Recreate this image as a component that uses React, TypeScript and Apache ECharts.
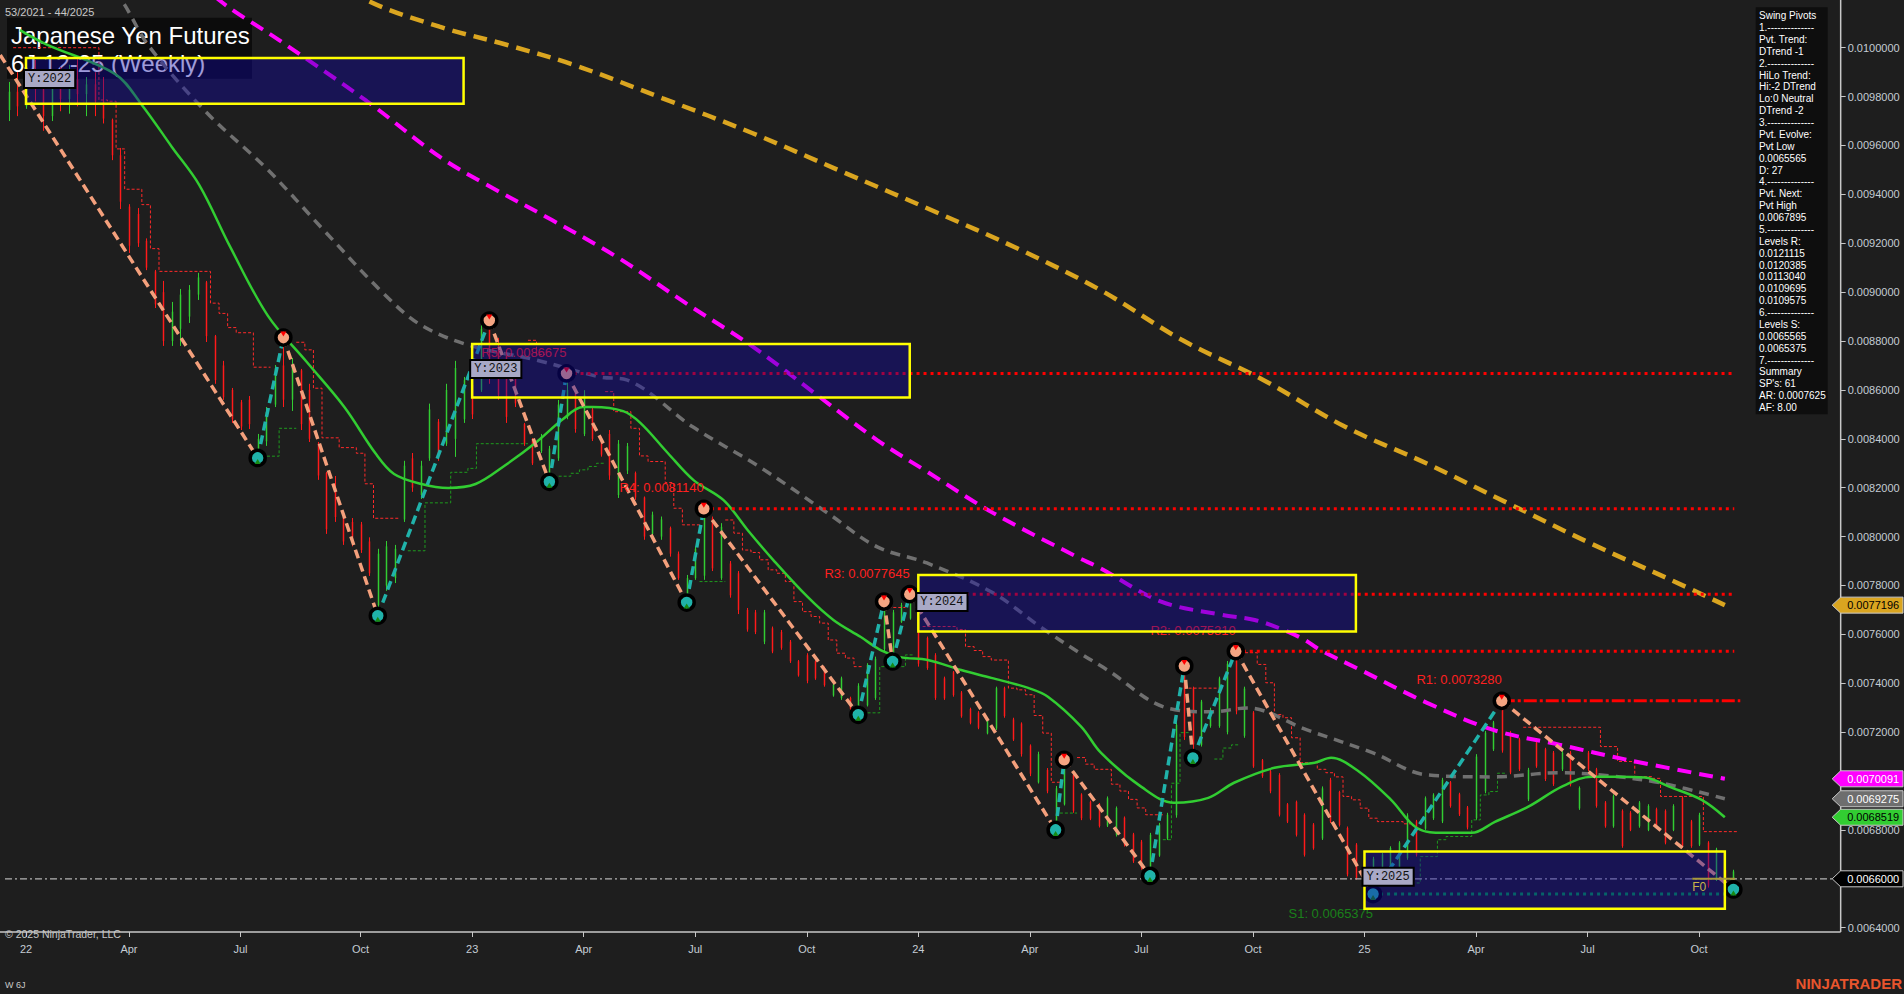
import React, { useEffect, useRef } from "react";
import * as echarts from "echarts";

// ---------------- data ----------------
const CATEGORY_COUNT = 214;
const xTickIndex = [2, 14, 27, 41, 54, 67, 80, 93, 106, 119, 132, 145, 158, 171, 184, 197];
const xTickLabels = ["22", "Apr", "Jul", "Oct", "23", "Apr", "Jul", "Oct", "24", "Apr", "Jul", "Oct", "25", "Apr", "Jul", "Oct"];

const Y_MIN = 0.0064;
const Y_MAX = 0.01;
const Y_STEP = 0.0002;

// weekly bars [open, high, low, close]
const ohlc: number[][] = [
  [0.009745, 0.00986, 0.0097, 0.00982], [0.00982, 0.0099, 0.00972, 0.00976], [0.00976, 0.00994, 0.00975, 0.00988],
  [0.00988, 0.00995, 0.00978, 0.00983], [0.00983, 0.0099, 0.00966, 0.00972], [0.00972, 0.00989, 0.0097, 0.00984],
  [0.00984, 0.00992, 0.00974, 0.00979], [0.00979, 0.00993, 0.00973, 0.00987], [0.00987, 0.00996, 0.00976, 0.00981],
  [0.00981, 0.00988, 0.00972, 0.00985], [0.00985, 0.0099, 0.00972, 0.00978], [0.00978, 0.00988, 0.00969, 0.00971],
  [0.009705, 0.00971, 0.00954, 0.00956], [0.00956, 0.00959, 0.00934, 0.00937], [0.00935, 0.00936, 0.00916, 0.00919],
  [0.00932, 0.009344, 0.009185, 0.0092], [0.00921, 0.00922, 0.00909, 0.0091], [0.009085, 0.009091, 0.008935, 0.00895],
  [0.009, 0.009046, 0.00878, 0.0088], [0.0088, 0.00896, 0.00878, 0.00892], [0.00885, 0.009013, 0.00878, 0.00899],
  [0.0089, 0.009029, 0.008874, 0.00901], [0.00899, 0.009079, 0.008968, 0.00906], [0.00904, 0.009046, 0.008796, 0.00882],
  [0.00882, 0.008825, 0.008625, 0.00864], [0.0087, 0.008719, 0.008559, 0.00857], [0.0086, 0.008608, 0.008465, 0.00848],
  [0.00855, 0.008559, 0.008436, 0.00845], [0.00856, 0.008575, 0.00844, 0.00846], [0.00834, 0.00842, 0.008322, 0.0084],
  [0.00839, 0.00853, 0.008371, 0.00851], [0.00854, 0.008702, 0.00853, 0.00869], [0.0087, 0.008814, 0.00853, 0.00856],
  [0.00856, 0.008731, 0.008514, 0.0087], [0.00868, 0.008686, 0.008436, 0.00846], [0.0086, 0.008625, 0.008387, 0.0084],
  [0.00838, 0.008387, 0.008232, 0.00825], [0.00826, 0.008265, 0.008011, 0.00803], [0.0082, 0.008248, 0.00806, 0.00808],
  [0.00808, 0.008089, 0.007966, 0.00798], [0.00806, 0.008076, 0.00796, 0.007975], [0.00805, 0.00806, 0.007933, 0.007945],
  [0.00798, 0.007997, 0.007839, 0.00785], [0.00772, 0.00795, 0.007676, 0.00793], [0.0078, 0.007982, 0.007778, 0.00796],
  [0.00783, 0.007966, 0.00781, 0.00795], [0.00807, 0.00831, 0.00806, 0.00829], [0.00832, 0.008342, 0.008183, 0.0082],
  [0.00817, 0.00831, 0.008154, 0.00829], [0.00832, 0.008544, 0.00831, 0.00852], [0.00847, 0.008481, 0.00831, 0.00833],
  [0.00838, 0.008625, 0.008371, 0.0086], [0.0084, 0.008719, 0.008326, 0.00869], [0.00848, 0.008653, 0.008465, 0.00864],
  [0.00862, 0.008625, 0.008481, 0.0085], [0.0086, 0.008874, 0.008592, 0.00885], [0.00886, 0.008884, 0.008625, 0.00865],
  [0.00878, 0.008813, 0.00856, 0.00858], [0.00874, 0.00876, 0.008465, 0.00849], [0.00869, 0.008702, 0.00853, 0.008545],
  [0.00846, 0.008465, 0.008371, 0.00838], [0.008395, 0.008403, 0.008293, 0.0083], [0.00835, 0.00842, 0.008342, 0.00841],
  [0.00824, 0.008371, 0.008224, 0.00836], [0.00832, 0.008559, 0.00831, 0.00854], [0.00849, 0.008668, 0.00848, 0.0086],
  [0.00859, 0.008599, 0.008425, 0.00844], [0.00842, 0.008599, 0.008411, 0.00858], [0.00852, 0.008527, 0.008391, 0.0084],
  [0.0084, 0.008409, 0.008327, 0.008335], [0.00842, 0.008436, 0.008232, 0.00825], [0.00817, 0.008395, 0.008158, 0.00838],
  [0.00827, 0.008383, 0.008256, 0.00837], [0.00826, 0.008266, 0.00815, 0.00816], [0.00816, 0.008164, 0.007987, 0.008],
  [0.00801, 0.008102, 0.008, 0.00809], [0.008, 0.008082, 0.007987, 0.00807], [0.008035, 0.008041, 0.007918, 0.00793],
  [0.00793, 0.007939, 0.007823, 0.00783], [0.00774, 0.007843, 0.00773, 0.00783], [0.00783, 0.007959, 0.007823, 0.00795],
  [0.00784, 0.008114, 0.007823, 0.00809], [0.008075, 0.008082, 0.007859, 0.00787], [0.00783, 0.008055, 0.007823, 0.00804],
  [0.00789, 0.0079, 0.00775, 0.00776], [0.00785, 0.007859, 0.007683, 0.0077], [0.0077, 0.007708, 0.007611, 0.00762],
  [0.00769, 0.0077, 0.007601, 0.00761], [0.00757, 0.0077, 0.00756, 0.00769], [0.007625, 0.007632, 0.007523, 0.00753],
  [0.00761, 0.007618, 0.007537, 0.007545], [0.00757, 0.007577, 0.007483, 0.00749], [0.00749, 0.007495, 0.007427, 0.007432],
  [0.007515, 0.007523, 0.0074, 0.00741], [0.00749, 0.007495, 0.007414, 0.00742], [0.00746, 0.007468, 0.007386, 0.007392],
  [0.00735, 0.0074, 0.007345, 0.007395], [0.00734, 0.007427, 0.007332, 0.00742], [0.00734, 0.007345, 0.007291, 0.007296],
  [0.00728, 0.0074, 0.007271, 0.00739], [0.00731, 0.007482, 0.007305, 0.007475], [0.00734, 0.007509, 0.007332, 0.0075],
  [0.00754, 0.007734, 0.00753, 0.00772], [0.00751, 0.0077, 0.007489, 0.00769], [0.00765, 0.007729, 0.007647, 0.00772],
  [0.007665, 0.007768, 0.00766, 0.00775], [0.007665, 0.007673, 0.007468, 0.00748], [0.007585, 0.007591, 0.007455, 0.007462],
  [0.007515, 0.007523, 0.007332, 0.00734], [0.00742, 0.007427, 0.007332, 0.007338], [0.007445, 0.00745, 0.007345, 0.007352],
  [0.007362, 0.007368, 0.007259, 0.007265], [0.007295, 0.0073, 0.007232, 0.007238], [0.00728, 0.007286, 0.007212, 0.007218],
  [0.007195, 0.007259, 0.007191, 0.007252], [0.007215, 0.007386, 0.007209, 0.00738], [0.00738, 0.007386, 0.007259, 0.007266],
  [0.007252, 0.007259, 0.007164, 0.00717], [0.007235, 0.00724, 0.0071, 0.00711], [0.007145, 0.00715, 0.00702, 0.00703],
  [0.006995, 0.00712, 0.00699, 0.00711], [0.007045, 0.007053, 0.00695, 0.006958], [0.00681, 0.00698, 0.0068, 0.00697],
  [0.006905, 0.007087, 0.0069, 0.00707], [0.007025, 0.00703, 0.00687, 0.006878], [0.006945, 0.00695, 0.00684, 0.006848],
  [0.006915, 0.00692, 0.00684, 0.006846], [0.006905, 0.00691, 0.00681, 0.006816], [0.006818, 0.006937, 0.006812, 0.00693],
  [0.00678, 0.006896, 0.006773, 0.00689], [0.00685, 0.006855, 0.006732, 0.00674], [0.006782, 0.006788, 0.006665, 0.006672],
  [0.006752, 0.006759, 0.006637, 0.006645], [0.00662, 0.006788, 0.006612, 0.00678], [0.006695, 0.006829, 0.00669, 0.006822],
  [0.006765, 0.00687, 0.006759, 0.006862], [0.00686, 0.00724, 0.00685, 0.00723], [0.00745, 0.007471, 0.007168, 0.00718],
  [0.00738, 0.007386, 0.007094, 0.00715], [0.007148, 0.007332, 0.007141, 0.007325], [0.007225, 0.0073, 0.007218, 0.007292],
  [0.007225, 0.007427, 0.007218, 0.00742], [0.0072, 0.007491, 0.007191, 0.00748], [0.00752, 0.007534, 0.007273, 0.007285],
  [0.007185, 0.007386, 0.007177, 0.007378], [0.00728, 0.007286, 0.007054, 0.00706], [0.007085, 0.00709, 0.007013, 0.00702],
  [0.00704, 0.007045, 0.00695, 0.006958], [0.007025, 0.007032, 0.006855, 0.006862], [0.006905, 0.00691, 0.006828, 0.006834],
  [0.006915, 0.00692, 0.006773, 0.00678], [0.006862, 0.006868, 0.006691, 0.006698], [0.006822, 0.006828, 0.006719, 0.006725],
  [0.006765, 0.006978, 0.006759, 0.00697], [0.007005, 0.007013, 0.006828, 0.006835], [0.006955, 0.00696, 0.006814, 0.00682],
  [0.006808, 0.006814, 0.00661, 0.006618], [0.00674, 0.006746, 0.006596, 0.006602], [0.006672, 0.006678, 0.00657, 0.006578],
  [0.006545, 0.00669, 0.006537, 0.006682], [0.00663, 0.006706, 0.006624, 0.0067], [0.00663, 0.006733, 0.006624, 0.006726],
  [0.006645, 0.006754, 0.006637, 0.006748], [0.006685, 0.006868, 0.006678, 0.00686], [0.006835, 0.006841, 0.006691, 0.006698],
  [0.006805, 0.006937, 0.0068, 0.00693], [0.006848, 0.00695, 0.006841, 0.006944], [0.006835, 0.007013, 0.006828, 0.007005],
  [0.006995, 0.007, 0.006891, 0.006898], [0.006946, 0.006952, 0.006857, 0.006864], [0.006892, 0.006898, 0.006802, 0.00681],
  [0.006848, 0.00711, 0.006841, 0.0071], [0.006958, 0.007205, 0.00695, 0.007198], [0.00713, 0.007246, 0.007123, 0.00724],
  [0.00732, 0.007335, 0.007116, 0.007125], [0.007198, 0.007205, 0.007028, 0.007035], [0.00717, 0.007177, 0.007041, 0.007048],
  [0.006925, 0.007054, 0.006918, 0.007046], [0.007158, 0.007164, 0.007054, 0.00706], [0.00713, 0.007136, 0.007, 0.007008],
  [0.007116, 0.007123, 0.00698, 0.006988], [0.007048, 0.007123, 0.007041, 0.007116], [0.007116, 0.007123, 0.006978, 0.006985],
  [0.006888, 0.006978, 0.006882, 0.006972], [0.007116, 0.007123, 0.007041, 0.007048], [0.007048, 0.007054, 0.006891, 0.006898],
  [0.006912, 0.006918, 0.006809, 0.006815], [0.006815, 0.006945, 0.006809, 0.006938], [0.006878, 0.006884, 0.006727, 0.006734],
  [0.00687, 0.006877, 0.006795, 0.0068], [0.006815, 0.006918, 0.006809, 0.006912], [0.0068, 0.006905, 0.006795, 0.006898],
  [0.006885, 0.006891, 0.006809, 0.006815], [0.006878, 0.006884, 0.006741, 0.006748], [0.0068, 0.006905, 0.006795, 0.006898],
  [0.006932, 0.006938, 0.006727, 0.006734], [0.006835, 0.006841, 0.006727, 0.006734], [0.00674, 0.00687, 0.006734, 0.006862],
  [0.006748, 0.006754, 0.006564, 0.006572], [0.006596, 0.006727, 0.006591, 0.00672], [0.006635, 0.00664, 0.00658, 0.006586],
  [0.00659, 0.006637, 0.006556, 0.00663],
];

// swing pivots [barIndex, price] (first one lies left of the visible range)
const swingPivots: number[][] = [
  [-1, 0.00997], [29, 0.008322], [32, 0.008814], [43, 0.007676], [56, 0.008884], [63, 0.008224], [65, 0.0086675],
  [79, 0.00773], [81, 0.008114], [99, 0.007271], [102, 0.007734], [103, 0.007489], [105, 0.0077645], [122, 0.0068],
  [123, 0.007087], [133, 0.006612], [137, 0.007471], [138, 0.007094], [143, 0.007531], [159, 0.0065375],
  [174, 0.007328], [201, 0.0065565],
];

// moving averages [barIndex, value]
const maFast: number[][] = [
  [1.3, 0.010072], [4.3, 0.010015], [12.4, 0.009892], [15.5, 0.009766], [19, 0.009594], [22.2, 0.009438], [25.8, 0.009185],
  [30.2, 0.008903], [34.7, 0.008715], [39.1, 0.00853], [42.7, 0.008342], [44.9, 0.008256], [48.1, 0.008215], [51.2, 0.008199],
  [54.4, 0.008215], [57.9, 0.008293], [61.5, 0.008387], [64.6, 0.008481], [66.9, 0.00853], [68.1, 0.00853], [71.6, 0.008513],
  [73.6, 0.008465], [76.8, 0.008342], [79.8, 0.008231], [83.3, 0.008149], [86.1, 0.008027], [89.1, 0.007904], [93.1, 0.007753],
  [96.1, 0.007659], [99.3, 0.007589], [101.6, 0.007536], [103.9, 0.007507], [107.1, 0.007495], [111, 0.007454], [114.5, 0.007422],
  [118.8, 0.007381], [121.1, 0.007345], [125, 0.007222], [127.3, 0.007115], [132, 0.006976], [135.8, 0.006911], [139.8, 0.006931],
  [142.8, 0.006993], [147.5, 0.007054], [152.2, 0.007075], [154.1, 0.007095], [157.3, 0.00704], [161.1, 0.006923], [164.1, 0.006808],
  [167.3, 0.006788], [170.5, 0.006788], [173.2, 0.006833], [177.1, 0.006895], [181, 0.006977], [184.5, 0.007018], [187.2, 0.007018],
  [190.7, 0.007014], [193.5, 0.006977], [197.3, 0.006923], [200, 0.0068519],
];
const maMid: number[][] = [
  [12.3, 0.010235], [13.5, 0.010175], [16.4, 0.010003], [23.1, 0.009733], [30.2, 0.0095], [36.8, 0.00925], [43.6, 0.008997],
  [48, 0.008866], [53.9, 0.00878], [61.4, 0.008723], [68.9, 0.008653], [72, 0.008641], [79.7, 0.008449], [87.5, 0.008285],
  [95.4, 0.008097], [101.2, 0.007958], [107, 0.007892], [114.7, 0.00777], [120.2, 0.007631], [124.8, 0.007524], [128, 0.007455],
  [135, 0.007299], [140.3, 0.007283], [144.3, 0.007299], [151.3, 0.007209], [159, 0.007115], [165.3, 0.007025], [173, 0.007017],
  [180.8, 0.007034], [186.6, 0.007021], [192.4, 0.006993], [200, 0.0069275],
];
const maSlow: number[][] = [
  [22.5, 0.01028], [24.5, 0.010195], [31.5, 0.010031], [41.7, 0.009782], [50.2, 0.009554], [55.4, 0.009445], [63.3, 0.009295],
  [71.1, 0.009139], [78.9, 0.008955], [86.7, 0.008777], [94.5, 0.008571], [101.2, 0.008395], [107, 0.008266], [114.7, 0.008097],
  [124.5, 0.007917], [127.2, 0.007871], [134.3, 0.007734], [141.4, 0.00768], [145.2, 0.007659], [148.6, 0.007618], [151, 0.007578],
  [152.8, 0.007537], [157.5, 0.007455], [165.3, 0.00732], [173, 0.007209], [180.8, 0.007148], [188.6, 0.007087], [200, 0.0070091],
];
const maLong: number[][] = [
  [38, 0.0103], [41.7, 0.010195], [50.2, 0.010086], [58.1, 0.010011], [65.9, 0.009929], [76.2, 0.009793], [86.7, 0.00965],
  [97.1, 0.009493], [107.5, 0.009336], [117.9, 0.009173], [127.2, 0.009009], [136.7, 0.008805], [146.2, 0.008641],
  [155.7, 0.00845], [165.2, 0.0083], [174.7, 0.008137], [184.3, 0.007973], [193.7, 0.007823], [200, 0.0077196],
];

// trailing step lines: segments of [fromBar, toBar, value]
const redSteps: number[][][] = [
  [[1, 10, 0.01], [11, 11, 0.009786], [12, 12, 0.009781], [13, 13, 0.009586], [14, 15, 0.009421], [16, 16, 0.009358],
    [17, 17, 0.009178], [18, 23, 0.009085], [24, 24, 0.008955], [25, 25, 0.008913], [26, 26, 0.008855], [27, 28, 0.008834],
    [29, 30, 0.008693]],
  [[34, 34, 0.008795], [35, 35, 0.008764], [36, 36, 0.008607], [37, 38, 0.008404], [39, 40, 0.008364], [41, 41, 0.008341],
    [42, 42, 0.008216], [43, 45, 0.008075]],
  [[61, 61, 0.008803], [62, 62, 0.008745]],
  [[70, 70, 0.008593], [71, 72, 0.008511], [73, 73, 0.008443], [74, 74, 0.00833], [75, 76, 0.008307], [77, 77, 0.008221],
    [78, 78, 0.008116], [79, 80, 0.008048]],
  [[84, 84, 0.008068], [85, 85, 0.008014], [86, 86, 0.007945], [87, 87, 0.007935], [88, 88, 0.007905], [89, 89, 0.007864],
    [90, 90, 0.00785], [91, 91, 0.007816], [92, 92, 0.007734], [93, 93, 0.007693], [94, 94, 0.007673], [95, 95, 0.007646],
    [96, 96, 0.007577], [97, 97, 0.007523], [98, 98, 0.007503], [99, 99, 0.007468]],
  [[103, 104, 0.00771]],
  [[107, 110, 0.007632], [111, 111, 0.00762], [112, 112, 0.00755], [113, 113, 0.007534], [114, 114, 0.007509],
    [115, 116, 0.007495], [117, 117, 0.00738], [118, 118, 0.007373], [119, 119, 0.007353], [120, 120, 0.007268],
    [121, 121, 0.007196], [122, 122, 0.006995]],
  [[125, 125, 0.007096], [126, 126, 0.007069], [127, 128, 0.007048], [129, 129, 0.006987], [130, 130, 0.006959],
    [131, 131, 0.006925], [132, 132, 0.00689], [133, 134, 0.006862]],
  [[138, 141, 0.00738]],
  [[144, 145, 0.007525], [146, 146, 0.007477], [147, 147, 0.007402], [148, 148, 0.007272], [149, 149, 0.007259],
    [150, 150, 0.007177], [151, 152, 0.007075], [153, 153, 0.007048], [154, 154, 0.007034], [155, 155, 0.007017],
    [156, 156, 0.006937], [157, 157, 0.006923], [158, 158, 0.006889], [159, 159, 0.006848], [160, 162, 0.006834],
    [163, 163, 0.006825]],
  [[177, 185, 0.00722], [186, 187, 0.007141], [188, 189, 0.00708], [190, 191, 0.007018], [192, 192, 0.007011],
    [193, 197, 0.006937], [198, 201, 0.006793]],
];
const greenSteps: number[][][] = [
  [[30, 31, 0.008329], [32, 33, 0.008443]],
  [[47, 48, 0.007942], [49, 51, 0.008138], [52, 53, 0.008263], [54, 54, 0.008279], [55, 60, 0.00838]],
  [[64, 65, 0.008247], [66, 66, 0.008259], [67, 67, 0.008273], [68, 68, 0.008287], [69, 69, 0.0083]],
  [[81, 83, 0.007816]],
  [[100, 101, 0.007279], [102, 104, 0.007468], [105, 105, 0.007516]],
  [[123, 124, 0.006869]],
  [[135, 135, 0.00676], [136, 136, 0.006991], [137, 137, 0.007198]],
  [[141, 141, 0.00709], [142, 142, 0.007135], [143, 143, 0.007148]],
  [[164, 164, 0.006583], [165, 166, 0.006691], [167, 167, 0.00676], [168, 170, 0.006773], [171, 171, 0.006841],
    [172, 172, 0.006943], [173, 173, 0.006957], [174, 174, 0.007032]],
];

// support / resistance levels
const levelNames = ["R5", "R4", "R3", "R2", "R1", "S1"];
const levelValues = [0.0086675, 0.008114, 0.0077645, 0.007531, 0.007328, 0.0065375];
const levelStartBar = [65, 81, 105, 143, 174, 159];
const levelEndBar = [201.1, 201.1, 201.1, 201.1, 201.8, 201.8];

// yearly boxes
const yearLabels = ["Y:2022", "Y:2023", "Y:2024", "Y:2025"];
const yearStartBar = [2, 54, 106, 158];
const yearEndBar = [53, 105, 157, 200];
const yearTop = [0.009958, 0.008788, 0.007843, 0.006712];
const yearBottom = [0.009771, 0.008569, 0.007612, 0.006478];
const yearLabelLevel = [0.009905, 0.008718, 0.007765, 0.006641];

const lastPrice = 0.0066;
const fibBars = [196.2, 201.2];
const badgeValues = [0.0077196, 0.0070091, 0.0069275, 0.0068519, 0.0066];

const infoLines = [
  "Swing Pivots", "1.--------------", "Pvt. Trend:", "DTrend -1", "2.--------------", "HiLo Trend:", "Hi:-2 DTrend",
  "Lo:0 Neutral", "DTrend -2", "3.--------------", "Pvt. Evolve:", "Pvt Low", "0.0065565", "D: 27", "4.--------------",
  "Pvt. Next:", "Pvt High", "0.0067895", "5.--------------", "Levels R:", "0.0121115", "0.0120385", "0.0113040",
  "0.0109695", "0.0109575", "6.--------------", "Levels S:", "0.0065565", "0.0065375", "7.--------------", "Summary",
  "SP's: 61", "AR: 0.0007625", "AF: 8.00",
];

// ---------------- styling ----------------
const FONT = '"Liberation Sans", Arial, sans-serif';
const BG = "#1e1e1e";
const UP = "#32cd32";
const DOWN = "#ff1a1a";
const badgeFill = ["#daa520", "#ff00ff", "#6e6e6e", "#32cd32", "#000000"];
const badgeInk = ["#000000", "#ffffff", "#ffffff", "#000000", "#ffffff"];

export default function App() {
  const ref = useRef<HTMLDivElement>(null);

  useEffect(() => {
    if (!ref.current) return;
    const chart = echarts.init(ref.current, null, { renderer: "svg" });

    const categories = Array.from({ length: CATEGORY_COUNT }, (_, i) => {
      const k = xTickIndex.indexOf(i);
      return k >= 0 ? xTickLabels[k] : "";
    });
    const showTick = (index: number) => xTickIndex.indexOf(index) >= 0;

    const legs = swingPivots.slice(0, -1).map((_, k) => [k]);
    const pivotMarks = swingPivots.slice(1).map((_, k) => [k + 1]);

    const stepSeries = (segs: number[][][], color: string) => ({
      type: "custom",
      xAxisIndex: 1,
      yAxisIndex: 0,
      z: 2,
      silent: true,
      clip: false,
      data: segs.map((_, k) => [k]),
      renderItem: (params: any, api: any) => {
        const seg = segs[params.dataIndex];
        const pts: number[][] = [];
        for (const [a, b, v] of seg) {
          pts.push(api.coord([a - 0.5, v]));
          pts.push(api.coord([b + 0.5, v]));
        }
        return {
          type: "polyline",
          shape: { points: pts },
          style: { stroke: color, lineWidth: 1, lineDash: [3, 2], fill: "none" },
        };
      },
    });

    const maSeries = (data: number[][], color: string, width: number, dash: any, z: number) => ({
      type: "line",
      xAxisIndex: 1,
      yAxisIndex: 0,
      data,
      smooth: 0.35,
      symbol: "none",
      showSymbol: false,
      silent: true,
      clip: false,
      z,
      lineStyle: { color, width, type: dash, cap: "butt" },
    });

    const option: any = {
      animation: false,
      backgroundColor: BG,
      textStyle: { fontFamily: FONT },
      grid: { left: 4.55, right: 63.33, top: 47.7, bottom: 66.3, containLabel: false, outerBoundsMode: "none" },
      xAxis: [
        {
          type: "category",
          data: categories,
          gridIndex: 0,
          position: "bottom",
          offset: 4.3,
          axisLine: { show: false, onZero: false },
          axisTick: { show: true, interval: showTick, alignWithLabel: true, length: 5, lineStyle: { color: "#c8c8c8" } },
          axisLabel: { interval: showTick, color: "#c4ccd4", fontSize: 11, fontFamily: FONT, margin: 11 },
          splitLine: { show: false },
        },
        {
          type: "value",
          gridIndex: 0,
          min: -0.5,
          max: CATEGORY_COUNT - 0.5,
          show: false,
          axisLine: { show: false, onZero: false },
        },
      ],
      yAxis: [
        {
          type: "value",
          position: "right",
          min: Y_MIN,
          max: Y_MAX,
          interval: Y_STEP,
          axisLine: { show: false, onZero: false },
          axisTick: { show: true, length: 5, lineStyle: { color: "#c8c8c8" } },
          axisLabel: {
            color: "#c4ccd4",
            fontSize: 11,
            fontFamily: FONT,
            margin: 7,
            formatter: (v: number) => v.toFixed(7),
          },
          splitLine: { show: false },
        },
      ],
      graphic: [
        { type: "rect", z: 0, shape: { x: 7, y: 17.7, width: 245, height: 61 }, style: { fill: "rgba(10,10,10,0.9)" } },
        { type: "text", z: 1, x: 11, y: 35, style: { text: "Japanese Yen Futures", fill: "#ffffff", font: `24px ${FONT}`, align: "left", verticalAlign: "middle" } },
        { type: "text", z: 1, x: 11, y: 63, style: { text: "6J 12-25 (Weekly)", fill: "#ffffff", font: `24px ${FONT}`, align: "left", verticalAlign: "middle" } },
        { type: "text", z: 1, x: 5, y: 12, style: { text: "53/2021 - 44/2025", fill: "#c8c8c8", font: `11px ${FONT}`, align: "left", verticalAlign: "middle" } },
        { type: "line", z: 9, shape: { x1: 1840.67, y1: 0, x2: 1840.67, y2: 932 }, style: { stroke: "#c8c8c8", lineWidth: 1.5 } },
        { type: "line", z: 9, shape: { x1: 0, y1: 932, x2: 1840.67, y2: 932 }, style: { stroke: "#c8c8c8", lineWidth: 1.5 } },
        { type: "text", z: 9, x: 5, y: 934, style: { text: "© 2025 NinjaTrader, LLC", fill: "#c8c8c8", font: `10.5px ${FONT}`, align: "left", verticalAlign: "middle" } },
        { type: "text", z: 9, x: 5, y: 985, style: { text: "W 6J", fill: "#c8c8c8", font: `9px ${FONT}`, align: "left", verticalAlign: "middle" } },
        { type: "text", z: 9, x: 1902, y: 983, style: { text: "NINJATRADER", fill: "#e8552d", font: `bold 15px ${FONT}`, align: "right", verticalAlign: "middle" } },
        { type: "rect", z: 20, shape: { x: 1755.7, y: 7.3, width: 72, height: 407 }, style: { fill: "#0e0e0e" } },
        { type: "text", z: 21, x: 1759, y: 9.8, style: { text: infoLines.join("\n"), fill: "#ffffff", font: `10px ${FONT}`, lineHeight: 11.875, align: "left", verticalAlign: "top" } },
      ],
      series: [
        // price bars
        {
          type: "custom",
          xAxisIndex: 1,
          yAxisIndex: 0,
          z: 2,
          silent: true,
          clip: false,
          data: ohlc.map((b, i) => [i, b[0], b[1], b[2], b[3]]),
          encode: { x: 0, y: [1, 2, 3, 4] },
          renderItem: (params: any, api: any) => {
            const i = api.value(0);
            const o = api.value(1);
            const h = api.value(2);
            const l = api.value(3);
            const c = api.value(4);
            const top = api.coord([i, h]);
            const bot = api.coord([i, l]);
            const po = api.coord([i, o]);
            const pc = api.coord([i, c]);
            const color = c >= o ? UP : DOWN;
            const x = Math.round(top[0]) + 0.5;
            const y1 = Math.min(po[1], pc[1]);
            const y2 = Math.max(po[1], pc[1]);
            return {
              type: "group",
              children: [
                { type: "line", shape: { x1: x, y1: top[1], x2: x, y2: bot[1] }, style: { stroke: color, lineWidth: 1 } },
                { type: "rect", shape: { x: x - 0.75, y: y1, width: 1.5, height: Math.max(1, y2 - y1) }, style: { fill: color } },
              ],
            };
          },
        },
        stepSeries(redSteps, "#ff2a2a"),
        stepSeries(greenSteps, "#1e9a1e"),
        maSeries(maLong, "#daa520", 4.5, [14, 8], 3),
        maSeries(maSlow, "#ff00ff", 4, [14, 8], 3),
        maSeries(maMid, "#707070", 3.5, [10, 7], 3),
        maSeries(maFast, "#32cd32", 2.5, "solid", 3),
        // last price dash-dot line
        {
          type: "custom",
          xAxisIndex: 1,
          yAxisIndex: 0,
          z: 3,
          silent: true,
          clip: false,
          data: [[0]],
          renderItem: (params: any, api: any) => {
            const a = api.coord([-0.45, lastPrice]);
            const b = api.coord([CATEGORY_COUNT - 0.5, lastPrice]);
            return {
              type: "line",
              shape: { x1: a[0], y1: a[1], x2: b[0], y2: b[1] },
              style: { stroke: "#b4b4b4", lineWidth: 1.2, lineDash: [7, 3, 2, 3] },
            };
          },
        },
        // swing zigzag
        {
          type: "custom",
          xAxisIndex: 1,
          yAxisIndex: 0,
          z: 4,
          silent: true,
          clip: false,
          data: legs,
          renderItem: (params: any, api: any) => {
            const k = params.dataIndex;
            const p1 = swingPivots[k];
            const p2 = swingPivots[k + 1];
            const a = api.coord(p1);
            const b = api.coord(p2);
            const up = p2[1] > p1[1];
            return {
              type: "line",
              shape: { x1: a[0], y1: a[1], x2: b[0], y2: b[1] },
              style: { stroke: up ? "#20b2aa" : "#f4a07c", lineWidth: 3.5, lineDash: [9, 5] },
            };
          },
        },
        // level lines
        {
          type: "custom",
          xAxisIndex: 1,
          yAxisIndex: 0,
          z: 4,
          silent: true,
          clip: false,
          data: levelValues.map((_, k) => [k]),
          renderItem: (params: any, api: any) => {
            const k = params.dataIndex;
            const a = api.coord([levelStartBar[k], levelValues[k]]);
            const b = api.coord([levelEndBar[k], levelValues[k]]);
            const isS = levelNames[k].startsWith("S");
            const isR1 = levelNames[k] === "R1";
            return {
              type: "line",
              shape: { x1: a[0], y1: a[1], x2: b[0], y2: b[1] },
              style: {
                stroke: isS ? "#00a040" : "#ff0000",
                lineWidth: 3,
                lineDash: isR1 ? [13, 3, 3, 3] : [3, 4],
              },
            };
          },
        },
        // level labels
        {
          type: "custom",
          xAxisIndex: 1,
          yAxisIndex: 0,
          z: 5,
          silent: true,
          clip: false,
          data: levelValues.map((_, k) => [k]),
          renderItem: (params: any, api: any) => {
            const k = params.dataIndex;
            const p = api.coord([levelStartBar[k], levelValues[k]]);
            const isS = levelNames[k].startsWith("S");
            return {
              type: "text",
              x: p[0],
              y: isS ? p[1] + 19 : p[1] - 21,
              style: {
                text: `${levelNames[k]}: ${levelValues[k].toFixed(7)}`,
                fill: isS ? "#1a801a" : "#ff2020",
                font: `13px ${FONT}`,
                align: "right",
                verticalAlign: "middle",
              },
            };
          },
        },
        // pivot markers
        {
          type: "custom",
          xAxisIndex: 1,
          yAxisIndex: 0,
          z: 5,
          silent: true,
          clip: false,
          data: pivotMarks,
          renderItem: (params: any, api: any) => {
            const k = pivotMarks[params.dataIndex][0];
            const p = swingPivots[k];
            const isHigh = p[1] > swingPivots[k - 1][1];
            const [cx, cy] = api.coord(p);
            const tri = isHigh
              ? [[cx - 3, cy - 6], [cx + 3, cy - 6], [cx, cy - 1]]
              : [[cx - 3, cy + 6], [cx + 3, cy + 6], [cx, cy + 1]];
            return {
              type: "group",
              children: [
                { type: "circle", shape: { cx, cy, r: 7.5 }, style: { fill: isHigh ? "#f4a582" : "#20b2aa", stroke: "#000000", lineWidth: 3.5 } },
                { type: "polygon", shape: { points: tri }, style: { fill: isHigh ? "#ff0000" : "#168a16" } },
              ],
            };
          },
        },
        // yearly boxes
        {
          type: "custom",
          xAxisIndex: 1,
          yAxisIndex: 0,
          z: 6,
          silent: true,
          clip: false,
          data: yearLabels.map((_, k) => [k]),
          renderItem: (params: any, api: any) => {
            const k = params.dataIndex;
            const a = api.coord([yearStartBar[k], yearTop[k]]);
            const b = api.coord([yearEndBar[k], yearBottom[k]]);
            const ly = api.coord([yearStartBar[k], yearLabelLevel[k]])[1];
            return {
              type: "group",
              children: [
                {
                  type: "rect",
                  shape: { x: a[0], y: a[1], width: b[0] - a[0], height: b[1] - a[1] },
                  style: { fill: "rgba(15,5,165,0.4)", stroke: "#ffff00", lineWidth: 2.5 },
                },
                {
                  type: "text",
                  x: a[0] - 1,
                  y: ly,
                  style: {
                    text: yearLabels[k],
                    fill: "#111111",
                    font: `12px "Liberation Mono", monospace`,
                    backgroundColor: "#a9a9c6",
                    borderColor: "#000000",
                    borderWidth: 2,
                    padding: [2, 3, 2, 3],
                    align: "left",
                    verticalAlign: "top",
                  },
                },
              ],
            };
          },
        },
        // F0 marker
        {
          type: "custom",
          xAxisIndex: 1,
          yAxisIndex: 0,
          z: 7,
          silent: true,
          clip: false,
          data: [[0]],
          renderItem: (params: any, api: any) => {
            const a = api.coord([fibBars[0], lastPrice]);
            const b = api.coord([fibBars[1], lastPrice]);
            return {
              type: "group",
              children: [
                { type: "line", shape: { x1: a[0], y1: a[1], x2: b[0], y2: b[1] }, style: { stroke: "#a89a3c", lineWidth: 2 } },
                { type: "text", x: a[0], y: a[1] + 8, style: { text: "F0", fill: "#c8b44a", font: `12px ${FONT}`, align: "left", verticalAlign: "middle" } },
              ],
            };
          },
        },
        // price badges on the axis
        {
          type: "custom",
          xAxisIndex: 1,
          yAxisIndex: 0,
          z: 10,
          silent: true,
          clip: false,
          data: badgeValues.map((_, k) => [k]),
          renderItem: (params: any, api: any) => {
            const k = params.dataIndex;
            const p = api.coord([CATEGORY_COUNT - 0.5, badgeValues[k]]);
            const xa = p[0];
            const y = p[1];
            const h = 8;
            return {
              type: "group",
              children: [
                {
                  type: "polygon",
                  shape: { points: [[xa - 8.5, y], [xa, y - h], [1903, y - h], [1903, y + h], [xa, y + h]] },
                  style: { fill: badgeFill[k], stroke: "#c8c8c8", lineWidth: 1 },
                },
                {
                  type: "text",
                  x: xa + 6.5,
                  y,
                  style: { text: badgeValues[k].toFixed(7), fill: badgeInk[k], font: `11px ${FONT}`, align: "left", verticalAlign: "middle" },
                },
              ],
            };
          },
        },
      ],
    };

    chart.setOption(option);
    return () => chart.dispose();
  }, []);

  return (
    <div
      ref={ref}
      style={{ position: "fixed", left: 0, top: 0, width: 1904, height: 994, background: BG }}
    />
  );
}
